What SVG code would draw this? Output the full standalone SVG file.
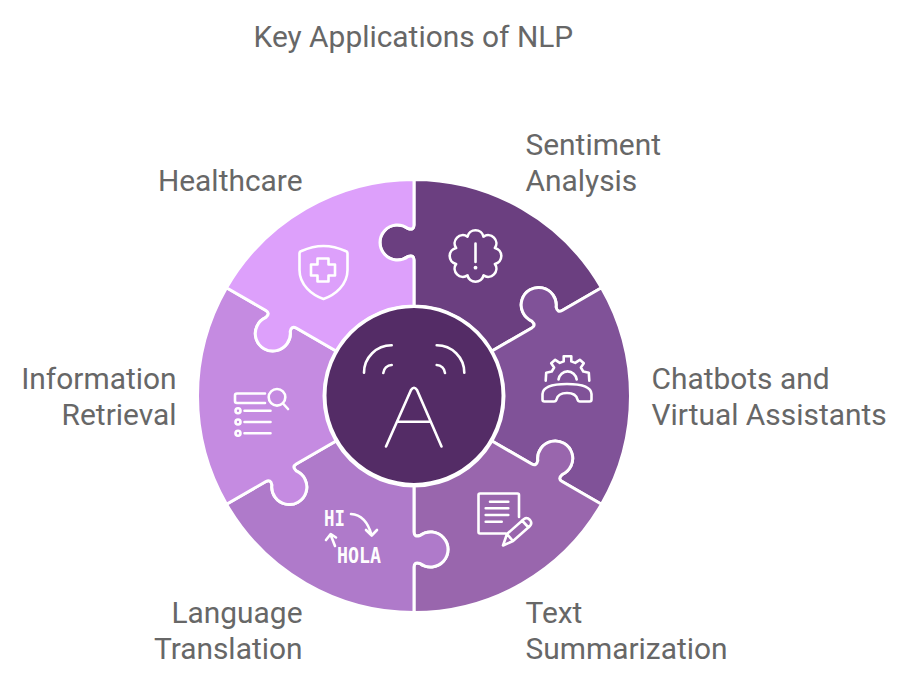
<svg xmlns="http://www.w3.org/2000/svg" width="918" height="684" viewBox="0 0 918 684">
<style>
text{font-family:Roboto,"Liberation Sans",sans-serif;font-size:29.9px;fill:#666;opacity:.99}
.e{text-anchor:end}
.p{stroke:#fff;stroke-width:3;stroke-linejoin:round}
.i{fill:none;stroke:#fff;stroke-width:2.6;stroke-linecap:round;stroke-linejoin:round}
text.m{font-family:"DejaVu Sans Mono",monospace;font-size:21px;font-weight:700;fill:#fff}
</style>
<defs>
<path id="piece" class="p" d="M0,-90L0,-136Q0,-141.5 -6,-139.5A17.5,17.5 0 1 1 -6,-167.5Q0,-165.5 0,-171L0,-216.5A216.5,216.5 0 0 1 187.5,-108.25L148.09,-85.5Q143.33,-82.75 142.06,-88.95A17.5,17.5 0 1 0 117.81,-74.95Q122.54,-70.75 117.78,-68L77.94,-45A90,90 0 0 0 0,-90Z"/>
</defs>
<text id="title" x="253.500" y="47">Key Applications of NLP</text>
<g id="sentiment">
<use href="#piece" transform="translate(414,396)" fill="#6b3f80"/>
<path class="i" d="M483.5,236.6A8.2,8.2 0 0 1 494.9,248A8.2,8.2 0 0 1 494.9,264A8.2,8.2 0 0 1 483.5,275.4A8.2,8.2 0 0 1 467.5,275.4A8.2,8.2 0 0 1 456.1,264A8.2,8.2 0 0 1 456.1,248A8.2,8.2 0 0 1 467.5,236.6A8.2,8.2 0 0 1 483.5,236.6ZM475.5,243.5V262"/>
<circle cx="475.5" cy="267.7" r="1.9" fill="#fff"/>
<text x="525.500" y="155">Sentiment</text>
<text x="525.500" y="191">Analysis</text>
</g>
<g id="chatbots">
<use href="#piece" transform="translate(414,396) rotate(60)" fill="#805298"/>
<path class="i" d="M545.7,380.7L546.2,372.7L551.7,371.6L554.1,367.5L551.2,363.3L555.2,359.8L559.8,362.9L563.7,361.4L563.7,356.3L571.3,356.3L571.3,361.4L575.2,362.9L579.8,359.8L583.8,363.3L580.9,367.5L583.3,371.6L588.8,372.7L589.3,380.7M558.5,379.5A9.2,9.5 0 0 1 576.7,379.5M542.5,394Q543,384 567,384Q591,384 591.5,394L591.5,399.5Q591.5,401.5 589.5,401.5L580,401.5Q578,401.5 577.5,399.5Q576,393 567,393Q558,393 556.5,399.5Q556,401.5 554,401.5L544.5,401.5Q542.5,401.5 542.5,399.5Z"/>
<text x="651.500" y="389">Chatbots and</text>
<text x="651.500" y="425">Virtual Assistants</text>
</g>
<g id="summarization">
<use href="#piece" transform="translate(414,396) rotate(120)" fill="#9966ad"/>
<path class="i" d="M519,517V495Q519,493.5 517.5,493.5H480Q478.5,493.5 478.5,495V532Q478.5,533.5 480,533.5H506M490,501.7H508.3M485.7,508.3H508.3M485.7,515H508.3M485.7,521.7H501.7M503,545.5L507,534L524,519Q527,517 530,520Q532.5,523 530,526L513,541ZM507,534L513,541M522,520.5L528.5,527.5"/>
<text x="525.500" y="623">Text</text>
<text x="525.500" y="659">Summarization</text>
</g>
<g id="translation">
<use href="#piece" transform="translate(414,396) rotate(180)" fill="#af7aca"/>
<text class="m" x="324" y="525.500" textLength="21" lengthAdjust="spacingAndGlyphs">HI</text>
<text class="m" x="337" y="562.500" textLength="44" lengthAdjust="spacingAndGlyphs">HOLA</text>
<path class="i" d="M351,514Q366,515 371.5,535M366,530L371.7,535.5L377,530M335,546L330.7,535M326,540L330.7,534L336,537.5"/>
<text class="e" x="302.500" y="623">Language</text>
<text class="e" x="302.500" y="659">Translation</text>
</g>
<g id="retrieval">
<use href="#piece" transform="translate(414,396) rotate(240)" fill="#c58be1"/>
<path class="i" d="M265,393.5H237Q235,393.5 235,395.5V401Q235,403 237,403H265M283,403.5L288,409"/>
<circle class="i" cx="277" cy="397.3" r="8.3"/>
<circle class="i" cx="238" cy="410.7" r="2.5"/>
<circle class="i" cx="238" cy="422" r="2.5"/>
<circle class="i" cx="238" cy="433.3" r="2.5"/>
<path class="i" d="M244.5,410.7H270.5M244.5,422H270.5M244.5,433.3H270.5"/>
<text class="e" x="176.500" y="389">Information</text>
<text class="e" x="176.500" y="425">Retrieval</text>
</g>
<g id="healthcare">
<use href="#piece" transform="translate(414,396) rotate(300)" fill="#dda0fb"/>
<path class="i" d="M299.5,253.5Q299.5,251.5 301.5,251Q323.5,241 345.500,251Q347.500,251.500 347.500,253.500L347.500,270C347.500,285 335,295 323.500,299C312,295 299.500,285 299.500,270Z"/>
<path class="i" d="M317.500,258.500H328.500V264.500H335V275.500H328.500V281.500H317.500V275.500H311V264.500H317.500Z"/>
<text class="e" x="302.500" y="191">Healthcare</text>
</g>
<g id="center">
<circle cx="414" cy="395.5" r="89" fill="#542c66" stroke="#fff" stroke-width="3"/>
<path class="i" d="M386,446.500L411,390Q414,385.500 417,390L441.500,446.500M397.500,421.700H430.500M364,372.700A27.500,27.500 0 0 1 391.700,345.300M383.300,373A8.500,8.500 0 0 1 391.700,365M436.700,345.300A27.500,27.500 0 0 1 464.300,372.700M436.700,365A8.500,8.500 0 0 1 445,373"/>
</g>
</svg>
